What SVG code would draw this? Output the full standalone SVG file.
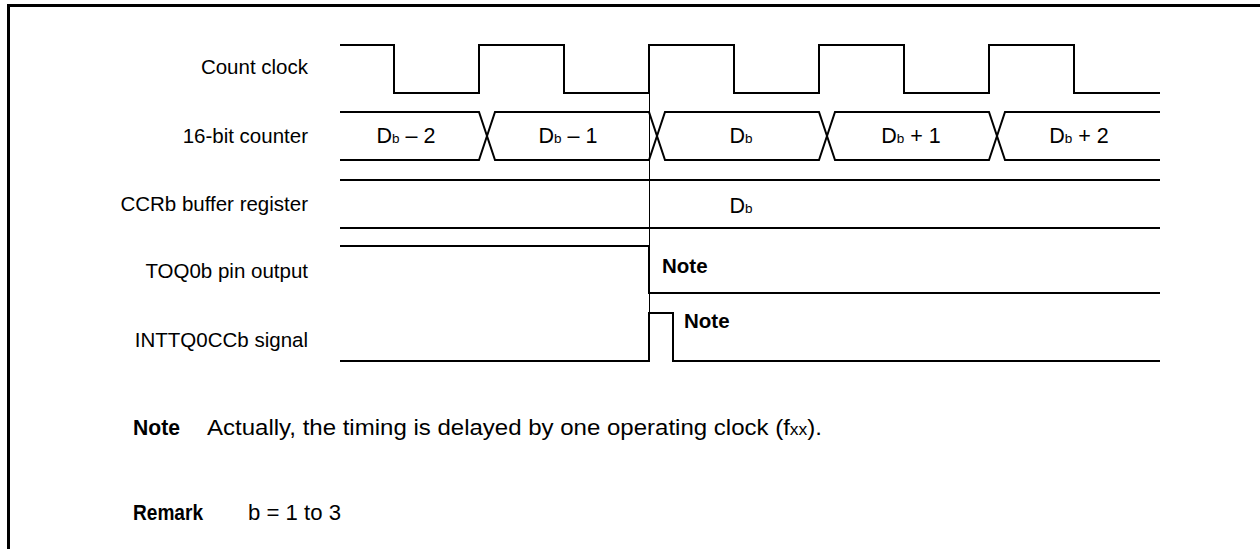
<svg xmlns="http://www.w3.org/2000/svg" width="1260" height="549" viewBox="0 0 1260 549">
<style>
.lbl{font-family:"Liberation Sans",Arial,Helvetica,sans-serif;font-size:20.5px;fill:#000}
.val{font-size:21.5px}
.bold{font-weight:bold}
.big{font-size:22px}
.sig{fill:none;stroke:#000;stroke-width:2;stroke-linejoin:miter}
.thin{fill:none;stroke:#000;stroke-width:1}
.sub{font-size:13.5px}
</style>
<rect width="1260" height="549" fill="#fff"/>
<g id="frame">
<path d="M8.5,549 V5.5 H1260" fill="none" stroke="#000" stroke-width="3"/>
</g>
<g id="labels">
<text class="lbl" x="308" y="74" text-anchor="end">Count clock</text>
<text class="lbl" x="308" y="143" text-anchor="end">16-bit counter</text>
<text class="lbl" x="308" y="211" text-anchor="end">CCRb buffer register</text>
<text class="lbl" x="308" y="278" text-anchor="end">TOQ0b pin output</text>
<text class="lbl" x="308" y="347" text-anchor="end">INTTQ0CCb signal</text>
</g>
<g id="count-clock">
<path class="sig" d="M340,45 H394 V93 H479 V45 H564 V93 H649 V45 H734 V93 H819 V45 H904 V93 H989 V45 H1074 V93 H1160"/>
</g>
<g id="counter">
<path class="sig" d="M340,112 H479 L495,160 H649 L665,112 H819 L835,160 H989 L1005,112 H1160"/>
<path class="sig" d="M340,160 H479 L495,112 H649 L665,160 H819 L835,112 H989 L1005,160 H1160"/>
<text class="lbl val" x="406" y="143" text-anchor="middle">D<tspan class="sub">b</tspan> – 2</text>
<text class="lbl val" x="568" y="143" text-anchor="middle">D<tspan class="sub">b</tspan> – 1</text>
<text class="lbl val" x="741" y="143" text-anchor="middle">D<tspan class="sub">b</tspan></text>
<text class="lbl val" x="911" y="143" text-anchor="middle">D<tspan class="sub">b</tspan> + 1</text>
<text class="lbl val" x="1079" y="143" text-anchor="middle">D<tspan class="sub">b</tspan> + 2</text>
</g>
<g id="ccrb">
<path class="sig" d="M340,180 H1160 M340,228 H1160"/>
<text class="lbl val" x="741" y="213" text-anchor="middle">D<tspan class="sub">b</tspan></text>
</g>
<g id="toq0b">
<path class="sig" d="M340,246 H649 V293 H1160"/>
<text class="lbl bold" x="662" y="273">Note</text>
</g>
<g id="inttq0ccb">
<path class="sig" d="M340,361 H649 V313 H673 V361 H1160"/>
<text class="lbl bold" x="684" y="328">Note</text>
</g>
<g id="connectors">
<path class="thin" d="M649.5,93 V313"/>
</g>
<g id="notes">
<text class="lbl bold big" x="133" y="435" textLength="47" lengthAdjust="spacingAndGlyphs">Note</text>
<text class="lbl big" x="207" y="435" textLength="615" lengthAdjust="spacingAndGlyphs">Actually, the timing is delayed by one operating clock (f<tspan font-size="16">xx</tspan>).</text>
<text class="lbl bold big" x="133" y="520" textLength="70" lengthAdjust="spacingAndGlyphs">Remark</text>
<text class="lbl big" x="248" y="520" textLength="93" lengthAdjust="spacingAndGlyphs">b = 1 to 3</text>
</g>
</svg>
